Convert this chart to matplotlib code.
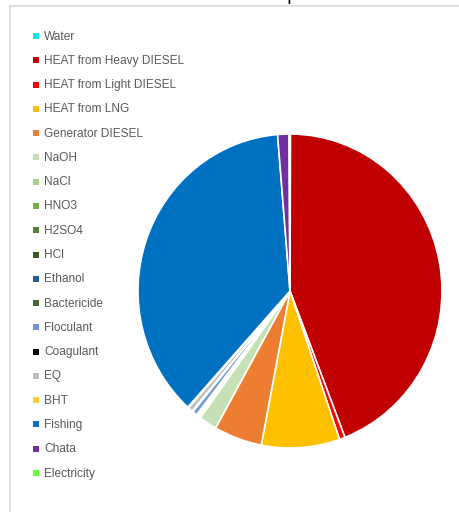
import matplotlib
matplotlib.use('Agg')
import matplotlib.pyplot as plt
from matplotlib.patches import Rectangle
from matplotlib.lines import Line2D

# data (percent of total)
labels = ['Water', 'HEAT from Heavy DIESEL', 'HEAT from Light DIESEL', 'HEAT from LNG',
          'Generator DIESEL', 'NaOH', 'NaCl', 'HNO3', 'H2SO4', 'HCl', 'Ethanol',
          'Bactericide', 'Floculant', 'Coagulant', 'EQ', 'BHT', 'Fishing', 'Chata',
          'Electricity']
values = [0.05, 44.0, 0.6, 8.3, 5.1, 1.9, 0.1, 0.1, 0.1, 0.05, 0.1,
          0.05, 0.5, 0.1, 0.5, 0.1, 36.9, 1.2, 0.1]
colors = ['#00E8F0', '#C00000', '#FF0000', '#FFC000', '#ED7D31', '#C5E0B4', '#A9D18E',
          '#70AD47', '#548235', '#385723', '#255E91', '#43682B', '#6F96D8', '#000000',
          '#BFBFBF', '#FFCD33', '#0070C0', '#7030A0', '#66FF33']

W, H = 459, 512
fig = plt.figure(figsize=(W / 100, H / 100), dpi=100)

# pie: centre (290, 291) px, slightly taller than wide as in the screenshot
cx, cy, rx, ry = 290, 291, 152, 157
ax = fig.add_axes([(cx - rx) / W, 1 - (cy + ry) / H, 2 * rx / W, 2 * ry / H])
ax.pie(values, colors=colors, startangle=90, counterclock=False,
       wedgeprops=dict(edgecolor='white', linewidth=1.2))
ax.set_aspect('auto')
ax.set_xlim(-1, 1)
ax.set_ylim(-1, 1)
ax.axis('off')

# legend drawn by hand, one row every ~24.3 px
y0, dy = 36, 24.28
for i, (lab, col) in enumerate(zip(labels, colors)):
    y = y0 + i * dy
    fig.patches.append(Rectangle((32.5 / W, 1 - (y + 3) / H), 6 / W, 6 / H,
                                 transform=fig.transFigure, facecolor=col,
                                 edgecolor='none'))
    fig.text(44 / W, 1 - (y + 0.5) / H, lab, va='center', ha='left', fontsize=8.6,
             color='#595959', family='Liberation Sans')

# chart area border (top and left edges visible)
fig.lines.append(Line2D([9.5 / W, 1], [1 - 5.5 / H, 1 - 5.5 / H],
                        transform=fig.transFigure, color='#D9D9D9', lw=1.2))
fig.lines.append(Line2D([9.5 / W, 9.5 / W], [0, 1 - 5.5 / H],
                        transform=fig.transFigure, color='#D9D9D9', lw=1.2))

# title cut off at top, only the descender of a "p" shows
fig.text(292 / W, 1.0, 'p', ha='center', va='baseline', fontsize=13, color='black')

fig.savefig('out.png', dpi=100)
